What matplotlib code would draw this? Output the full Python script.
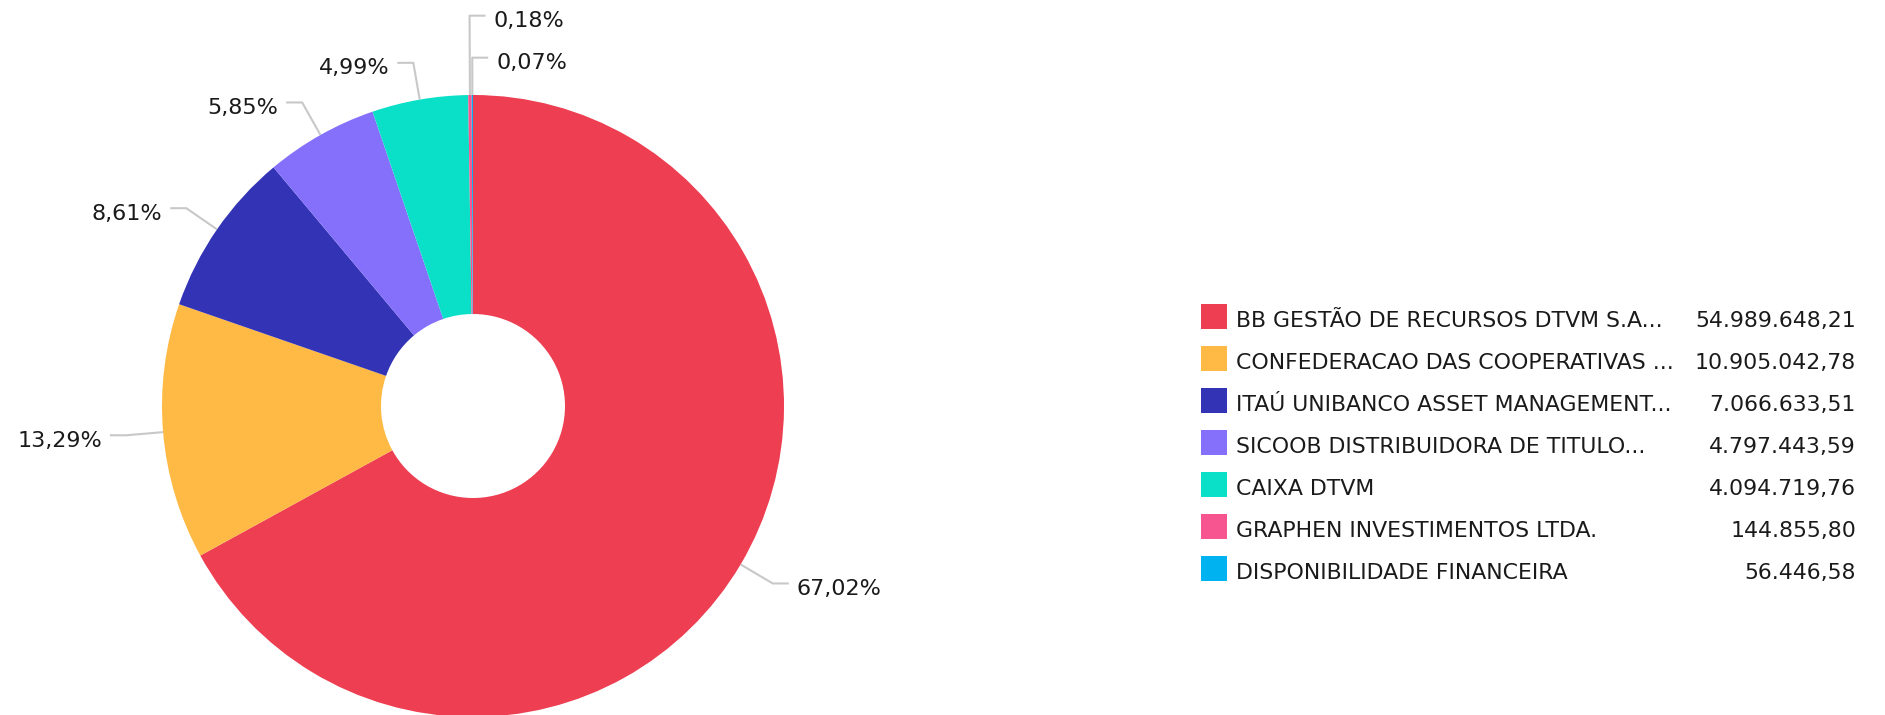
import numpy as np
import matplotlib
matplotlib.use("Agg")
import matplotlib.pyplot as plt
from matplotlib.patches import Rectangle

# data
managers = [
    "BB GESTÃO DE RECURSOS DTVM S.A...",
    "CONFEDERACAO DAS COOPERATIVAS ...",
    "ITAÚ UNIBANCO ASSET MANAGEMENT...",
    "SICOOB DISTRIBUIDORA DE TITULO...",
    "CAIXA DTVM",
    "GRAPHEN INVESTIMENTOS LTDA.",
    "DISPONIBILIDADE FINANCEIRA",
]
amounts = [54989648.21, 10905042.78, 7066633.51, 4797443.59,
           4094719.76, 144855.80, 56446.58]
colors = ["#EE3E51", "#FFBA45", "#3333B5", "#8470FB",
          "#0AE0C8", "#F7558F", "#00B3F0"]


def br(v, dec=2):
    s = f"{v:,.{dec}f}"
    return s.replace(",", "X").replace(".", ",").replace("X", ".")


W, H = 1885, 715
fig = plt.figure(figsize=(W / 100, H / 100), dpi=100)
ax = fig.add_axes([0, 0, 1, 1])

cx, cy, R = 473, H - 406, 311
wedges, _ = ax.pie(amounts, colors=colors, startangle=90, counterclock=False,
                   center=(cx, cy), radius=R,
                   wedgeprops=dict(width=R - 92, linewidth=0))
ax.set_xlim(0, W)
ax.set_ylim(0, H)
ax.axis("off")

# percentage labels with leader lines
total = sum(amounts)
labels = []
for w, v in zip(wedges, amounts):
    mid = np.deg2rad((w.theta1 + w.theta2) / 2)
    ex, ey = cx + R * np.cos(mid), cy + R * np.sin(mid)
    kx, ky = cx + 1.12 * R * np.cos(mid), cy + 1.12 * R * np.sin(mid)
    right = np.cos(mid) > -0.05
    labels.append(dict(ex=ex, ey=ey, kx=kx, ky=ky, right=right,
                       text=br(v / total * 100) + "%"))

# push overlapping labels on the right side upwards
prev = None
for lab in reversed(labels):
    if not lab["right"]:
        continue
    if prev is not None and abs(lab["ky"] - prev) < 42:
        lab["ky"] = prev + 42
    prev = lab["ky"]

for lab in labels:
    d = 1 if lab["right"] else -1
    hx = lab["kx"] + d * 16
    ax.plot([lab["ex"], lab["kx"], hx], [lab["ey"], lab["ky"], lab["ky"]],
            color="#c8c8c8", lw=1.5, solid_capstyle="butt")
    ax.text(hx + d * 8, lab["ky"] - 11.5, lab["text"],
            ha="left" if lab["right"] else "right", va="baseline",
            fontsize=16, color="#1a1a1a")

# legend
for i, (name, v, c) in enumerate(zip(managers, amounts, colors)):
    y = H - (316 + 42 * i)
    ax.add_patch(Rectangle((1201, y - 12.5), 26, 25, color=c, lw=0))
    ax.text(1236, y - 11, name, ha="left", va="baseline", fontsize=15.8,
            color="#1a1a1a")
    ax.text(1856, y - 11, br(v), ha="right", va="baseline", fontsize=15.8,
            color="#1a1a1a")

fig.savefig("out.png", dpi=100)
